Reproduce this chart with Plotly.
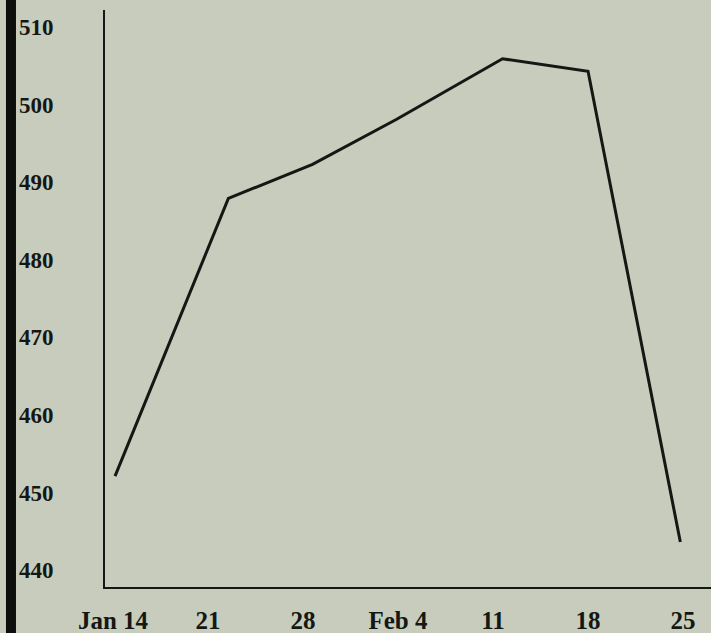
import plotly.graph_objects as go

# Data (x = days after Jan 14)
days = [0.15, 8.5, 14.7, 20.9, 28.7, 35.0, 41.8]
values = [452.1, 487.9, 492.3, 498.1, 505.9, 504.3, 443.6]

tick_days = [0, 7, 14, 21, 28, 35, 42]
tick_labels = ["Jan 14", "21", "28", "Feb 4", "11", "18", "25"]
y_ticks = [440, 450, 460, 470, 480, 490, 500, 510]

bg = "rgb(200,204,188)"
ink = "#141814"
font = dict(family="Liberation Serif, Times New Roman, serif", size=23, color=ink, weight="bold")
xfont = dict(font, size=25)

fig = go.Figure()
fig.add_trace(go.Scatter(
    x=days, y=values, mode="lines",
    line=dict(color=ink, width=3),
    hoverinfo="skip", showlegend=False,
))

fig.update_layout(
    width=711, height=633,
    margin=dict(l=105, r=0, t=10, b=46),
    paper_bgcolor=bg, plot_bgcolor=bg,
    font=font,
    xaxis=dict(
        range=[-0.59, 44.06], tickmode="array", tickvals=tick_days, ticktext=tick_labels,
        showgrid=False, zeroline=False, showline=True, linecolor=ink, linewidth=2,
        ticks="", ticklabelstandoff=10, tickfont=xfont,
    ),
    yaxis=dict(
        range=[437.81, 512.19], tickmode="array", tickvals=y_ticks,
        showgrid=False, zeroline=False, showline=True, linecolor=ink, linewidth=2,
        ticks="", ticklabelstandoff=45, tickfont=font,
    ),
    shapes=[dict(
        type="rect", xref="paper", yref="paper",
        x0=-0.1634, x1=-0.1469, y0=-0.1, y1=1.05,
        fillcolor="#0c0f0c", line=dict(width=0), layer="above",
    )],
)

fig.write_html(
    "out.html",
    config={"displayModeBar": False},
    post_script="document.body.style.margin='0';document.body.style.overflow='hidden';document.body.style.background='rgb(200,204,188)';",
)
